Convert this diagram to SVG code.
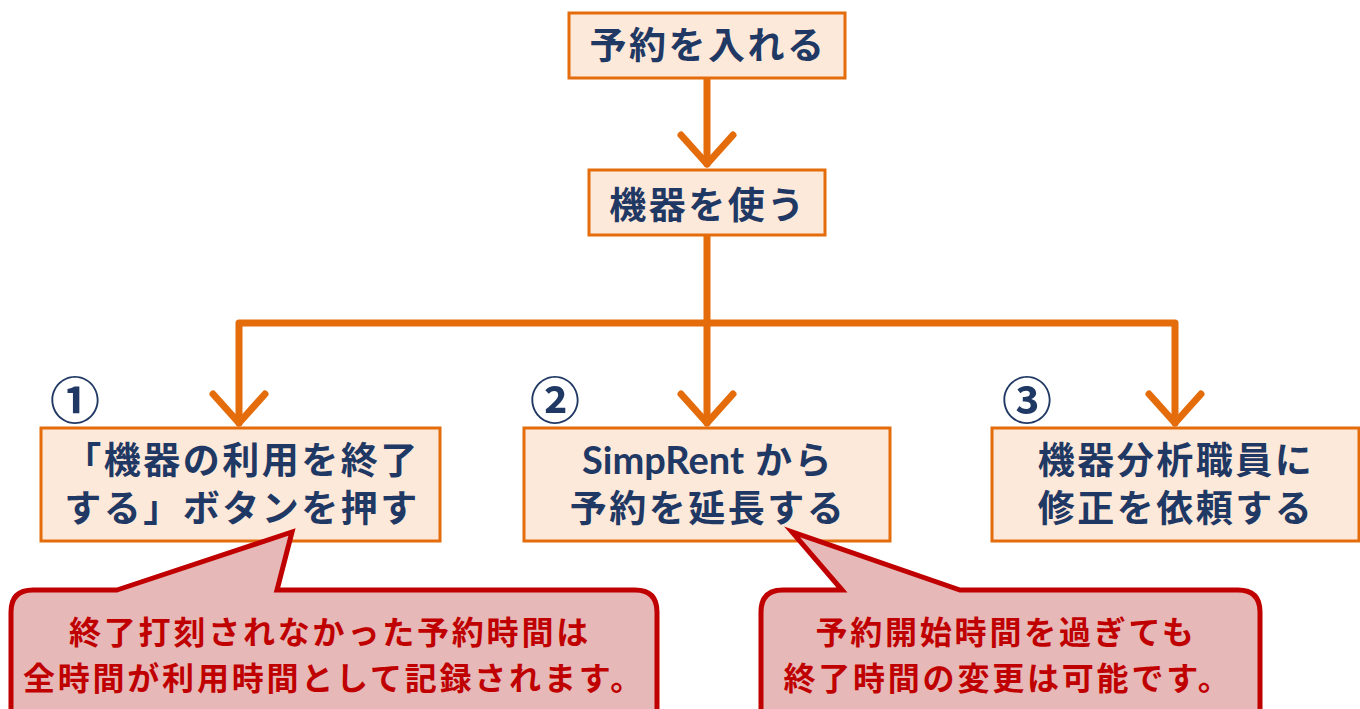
<svg xmlns="http://www.w3.org/2000/svg" width="1360" height="709" viewBox="0 0 1360 709">
<defs>
<style>
.box{fill:#fde9d9;stroke:#e46c0a;stroke-width:3}
.t{font-family:"Noto Sans CJK JP","Noto Sans",sans-serif;font-weight:bold;font-size:37px;fill:#1f3864;text-anchor:middle;letter-spacing:2.5px}
.lat{font-family:Lato,"Noto Sans",sans-serif;font-weight:bold;font-size:38px;letter-spacing:0}
.num{font-family:"Noto Sans CJK JP","Noto Sans",sans-serif;font-weight:bold;font-size:50px;fill:#1f3864;text-anchor:middle}
.c{font-family:"Noto Sans CJK JP","Noto Sans",sans-serif;font-weight:bold;font-size:32px;fill:#c00000;text-anchor:middle;letter-spacing:2.8px}
.call{fill:#e6b8b7;stroke:#c00000;stroke-width:5;stroke-linejoin:miter}
.ln{fill:none;stroke:#e46c0a;stroke-width:7;stroke-linecap:round;stroke-linejoin:round}
</style>
</defs>
<rect width="1360" height="709" fill="#ffffff"/>
<g id="connectors">
<path class="ln" d="M707,78 V164"/>
<path class="ln" d="M681,135 L707,164 L733,135"/>
<path class="ln" d="M707,235 V423"/>
<path class="ln" d="M239,423 V323 H1175 V423"/>
<path class="ln" d="M213,394 L239,423 L265,394"/>
<path class="ln" d="M681,394 L707,423 L733,394"/>
<path class="ln" d="M1149,394 L1175,423 L1201,394"/>
</g>
<g id="node-reserve">
<rect class="box" x="569" y="13" width="276" height="65"/>
<text class="t" x="708" y="59">予約を入れる</text>
</g>
<g id="node-use">
<rect class="box" x="589" y="170" width="236" height="65"/>
<text class="t" x="708" y="219">機器を使う</text>
</g>
<g id="node-1">
<text class="num" x="75" y="419">①</text>
<rect class="box" x="41" y="428" width="399" height="113"/>
<text class="t" x="242" y="474">「機器の利用を終了</text>
<text class="t" x="242" y="522">する」ボタンを押す</text>
</g>
<g id="node-2">
<text class="num" x="555" y="419">②</text>
<rect class="box" x="524" y="428" width="366" height="113"/>
<text class="t" x="708" y="474"><tspan class="lat">SimpRent</tspan> から</text>
<text class="t" x="708" y="522">予約を延長する</text>
</g>
<g id="node-3">
<text class="num" x="1027" y="419">③</text>
<rect class="box" x="992" y="428" width="367" height="113"/>
<text class="t" x="1176" y="474">機器分析職員に</text>
<text class="t" x="1176" y="522">修正を依頼する</text>
</g>
<g id="callout-1">
<path class="call" d="M117,590 L292,532 L277,590 L635,590 Q657,590 657,612 L657,740 L11,740 L11,612 Q11,590 33,590 Z"/>
<text class="c" x="330" y="644">終了打刻されなかった予約時間は</text>
<text class="c" x="334" y="690">全時間が利用時間として記録されます。</text>
</g>
<g id="callout-2">
<path class="call" d="M842,590 L792,532 L960,590 L1238,590 Q1260,590 1260,612 L1260,740 L761,740 L761,612 Q761,590 783,590 Z"/>
<text class="c" x="1006" y="644">予約開始時間を過ぎても</text>
<text class="c" x="1008" y="690">終了時間の変更は可能です。</text>
</g>
</svg>
